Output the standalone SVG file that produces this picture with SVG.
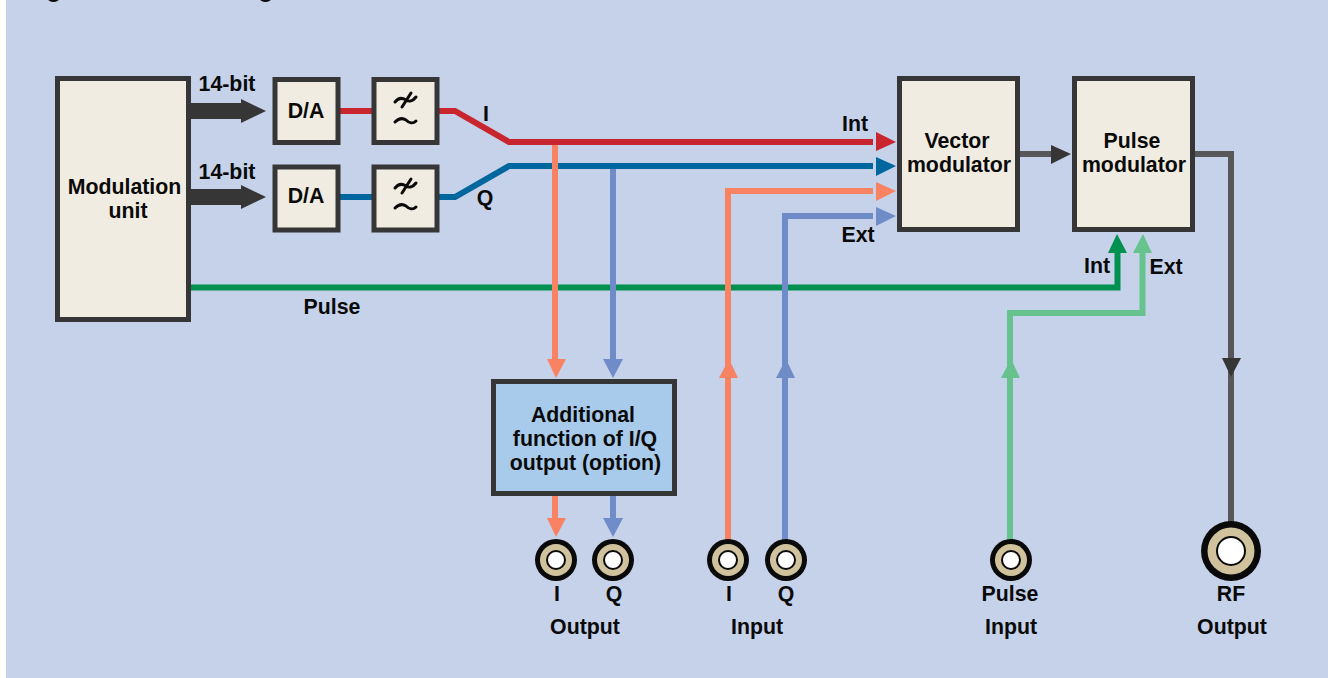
<svg xmlns="http://www.w3.org/2000/svg" width="1328" height="678" viewBox="0 0 1328 678">
<style>
text{font-family:"Liberation Sans",Arial,sans-serif;font-weight:700;font-size:21.300px;fill:#0a0a0a;text-anchor:middle}
.box{fill:#f0ece1;stroke:#363636;stroke-width:5}
.w{fill:none;stroke-width:6}
.red{stroke:#c9252f}.blue{stroke:#00669e}.sal{stroke:#f98263}.per{stroke:#6f8cc8}.grn{stroke:#00904f}.lgr{stroke:#66c38e}.gry{stroke:#58585a}
.fred{fill:#c9252f}.fblue{fill:#00669e}.fsal{fill:#f98263}.fper{fill:#6f8cc8}.fgrn{fill:#00904f}.flgr{fill:#66c38e}.fgry{fill:#363636}
.lp{fill:none;stroke:#0a0a0a;stroke-width:3;stroke-linecap:round}
.o{fill:#0a0a0a}.m{fill:#d0c29d}.i{fill:#fff;stroke:#0a0a0a;stroke-width:2}
</style>
<rect width="1328" height="678" fill="#fff"/>
<rect x="6" y="0" width="1322" height="678" fill="#c5d2ea"/>
<g id="title-fragment" fill="#0a0a0a"><ellipse cx="53.500" cy="-1" rx="5.500" ry="3"/><ellipse cx="265.500" cy="-1" rx="5.500" ry="3"/></g>
<g id="connectors">
<path class="fgry" d="M189 103H241V99L266 111L241 123V119H189Z"/>
<path class="fgry" d="M189 189H241V185L266 197L241 209V205H189Z"/>
<path class="w grn" d="M189 287.500H1117.500V252"/>
<path class="fgrn" d="M1108 253L1117 234L1127 253Z"/>
<path class="w blue" d="M339 197H373"/>
<path class="w blue" d="M438 197H455L509 166H873"/>
<path class="fblue" d="M876 157L896 166L876 176Z"/>
<path class="w per" d="M613 169V360"/>
<path class="fper" d="M603 359H623L613 378Z"/>
<path class="w sal" d="M555 142V360"/>
<path class="fsal" d="M547 359H566L556 378Z"/>
<path class="w red" d="M339 111H373"/>
<path class="w red" d="M438 111H455L509 142H873"/>
<path class="fred" d="M876 132L896 142L876 151Z"/>
<path class="w sal" d="M555 493V520"/>
<path class="fsal" d="M547 518H566L556 537Z"/>
<path class="w per" d="M613 493V520"/>
<path class="fper" d="M603 518H623L613 537Z"/>
<path class="w sal" d="M728 540V191H873"/>
<path class="fsal" d="M876 182L896 191L876 201Z"/>
<path class="fsal" d="M719 378L729 359L738 378Z"/>
<path class="w per" d="M785 540V216H873"/>
<path class="fper" d="M876 207L896 216L876 226Z"/>
<path class="fper" d="M776 378L786 359L795 378Z"/>
<path class="w lgr" d="M1010 540V313H1142.500V252"/>
<path class="flgr" d="M1133 253L1143 234L1152 253Z"/>
<path class="flgr" d="M1001 378L1011 359L1020 378Z"/>
<path class="w gry" d="M1018 154H1052"/>
<path class="fgry" d="M1051 145L1071 154L1051 164Z"/>
<path class="w gry" d="M1194 154H1231V525"/>
<path class="fgry" d="M1222 358H1241L1231 377Z"/>
</g>
<g id="modulation-unit"><rect class="box" x="57.500" y="78.500" width="131" height="241"/><text x="124.500" y="194">Modulation</text><text x="128" y="218">unit</text></g>
<g id="da-i"><rect class="box" x="275" y="79.500" width="63" height="63"/><text x="306" y="118">D/A</text></g>
<g id="filter-i"><rect class="box" x="374" y="79.500" width="63" height="63"/><path class="lp" d="M395 102C399 97 403 98 406 100C409 102 413 101 416 97M411 93L402 107M395 122C399 118 403 118 406 120C409 123 413 124 416 121"/></g>
<g id="da-q"><rect class="box" x="275" y="167" width="63" height="63"/><text x="306" y="203">D/A</text></g>
<g id="filter-q"><rect class="box" x="374" y="167" width="63" height="63"/><path class="lp" d="M395 188C399 183 403 184 406 186C409 188 413 187 416 183M411 179L402 193M395 208C399 204 403 204 406 206C409 209 413 210 416 207"/></g>
<g id="vector-modulator"><rect class="box" x="899.500" y="78.500" width="118" height="151"/><text x="957" y="148">Vector</text><text x="959" y="172">modulator</text></g>
<g id="pulse-modulator"><rect class="box" x="1074.500" y="78.500" width="118" height="151"/><text x="1132" y="148">Pulse</text><text x="1134" y="172">modulator</text></g>
<g id="additional-function"><rect x="493.500" y="381.500" width="181" height="112" fill="#a9cbeb" stroke="#363636" stroke-width="5"/><text x="583" y="422">Additional</text><text x="585" y="446">function of I/Q</text><text x="585.500" y="470">output (option)</text></g>
<g id="port-out-i"><circle class="o" cx="556" cy="560" r="21"/><circle class="m" cx="556" cy="560" r="16"/><circle class="i" cx="556" cy="560" r="9"/></g>
<g id="port-out-q"><circle class="o" cx="613" cy="560" r="21"/><circle class="m" cx="613" cy="560" r="16"/><circle class="i" cx="613" cy="560" r="9"/></g>
<g id="port-in-i"><circle class="o" cx="728" cy="560" r="21"/><circle class="m" cx="728" cy="560" r="16"/><circle class="i" cx="728" cy="560" r="9"/></g>
<g id="port-in-q"><circle class="o" cx="786" cy="560" r="21"/><circle class="m" cx="786" cy="560" r="16"/><circle class="i" cx="786" cy="560" r="9"/></g>
<g id="port-pulse"><circle class="o" cx="1011" cy="560" r="21"/><circle class="m" cx="1011" cy="560" r="16"/><circle class="i" cx="1011" cy="560" r="9"/></g>
<g id="port-rf"><circle class="o" cx="1231" cy="551" r="30"/><circle class="m" cx="1231" cy="551" r="23.500"/><circle class="i" cx="1231" cy="551" r="14"/></g>
<g id="labels">
<text x="227" y="91">14-bit</text><text x="227" y="179">14-bit</text>
<text x="486" y="121">I</text><text x="485" y="205">Q</text>
<text x="855" y="131">Int</text><text x="858" y="242">Ext</text>
<text x="1097" y="273">Int</text><text x="1166" y="274">Ext</text>
<text x="332" y="314">Pulse</text>
<text x="557" y="601">I</text><text x="614" y="601">Q</text><text x="585" y="634">Output</text>
<text x="729" y="601">I</text><text x="786" y="601">Q</text><text x="757" y="634">Input</text>
<text x="1010" y="601">Pulse</text><text x="1011" y="634">Input</text>
<text x="1231" y="601">RF</text><text x="1232" y="634">Output</text>
</g>
</svg>
